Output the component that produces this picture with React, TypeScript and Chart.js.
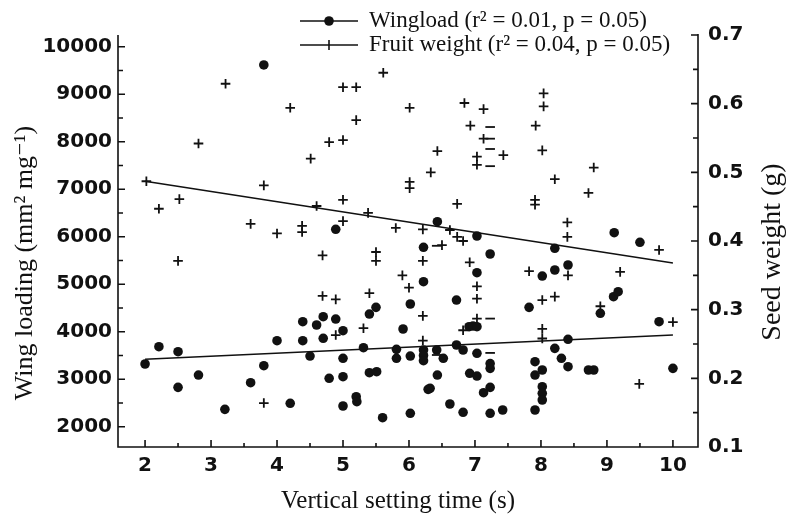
import React, { useEffect, useRef } from 'react';
import { Chart, registerables } from 'chart.js';

Chart.register(...registerables);

const INK = '#111111';

// Wingload (left axis, mm² mg⁻¹) vs vertical setting time (s)
const wingX = [
  3.80, 4.89, 6.22, 6.43, 7.03, 7.23, 8.21, 9.11, 9.50,
  2.00, 2.21, 2.50, 2.50, 2.81, 3.21, 3.60, 3.80, 4.00, 4.20,
  4.39, 4.39, 4.50, 4.60, 4.70, 4.70, 4.79, 4.89, 5.00, 5.00,
  5.00, 5.00, 5.20, 5.21, 5.31, 5.40, 5.50, 5.40, 5.51, 5.60,
  5.81, 5.81, 5.91, 6.02, 6.02, 6.02, 6.22, 6.22, 6.22, 6.22, 6.29,
  7.03, 6.72, 6.91, 6.97, 7.03, 6.42, 6.52, 6.72, 6.82, 7.03,
  7.23, 7.23, 6.43, 6.92, 7.03, 6.32, 7.23, 7.13, 6.62, 6.82, 7.23,
  7.42, 7.82, 8.02, 8.21, 8.41, 7.91, 8.02, 7.91, 8.02, 8.02,
  8.02, 7.91, 8.21, 8.31, 8.41, 8.41, 8.72, 8.80, 9.10, 9.17,
  8.90, 9.79, 10.00,
];
const wingY = [
  9615, 6156, 5777, 6316, 6015, 5636, 5756, 6084, 5882,
  3320, 3684, 3579, 2829, 3088, 2366, 2926, 3284, 3811, 2493,
  4211, 3811, 3488, 4141, 4316, 3861, 3019, 4267, 4021, 3440,
  3053, 2436, 2632, 2526, 3663, 4372, 4513, 3137, 3158, 2190,
  3629, 3440, 4057, 4583, 3488, 2282, 5053, 3615, 3500, 3390, 2787,
  5242, 4667, 4105, 4120, 4105, 3615, 3440, 3720, 3615, 3545,
  3229, 3330, 3088, 3124, 3067, 2808, 2829, 2716, 2478, 2303, 2282,
  2352, 4513, 5172, 5299, 5404, 3368, 3194, 3088, 2842, 2703,
  2562, 2352, 3650, 3440, 3263, 3840, 3194, 3194, 4737, 4842,
  4387, 4211, 3229,
];

// Fruit weight (right axis, g) vs vertical setting time (s)
const fruitX = [
  2.02, 2.21, 2.52, 2.81, 3.22, 3.60, 3.80, 4.00, 4.20, 4.38,
  4.38, 4.51, 4.60, 4.69, 4.79, 5.00, 5.00, 5.20, 5.20, 5.00,
  5.00, 5.38, 5.50, 5.61, 5.80, 6.01, 6.01, 6.01, 6.21, 6.33,
  6.43, 6.62, 6.73, 6.84, 6.93, 7.13, 7.13, 7.03, 7.03, 7.43,
  8.04, 8.04, 7.92, 8.02, 8.21, 7.91, 7.91, 8.80, 8.72, 8.40,
  8.40, 9.79, 6.50, 6.73, 6.82,
  2.50, 3.80, 4.69, 4.89, 4.89, 5.31, 5.40, 5.50, 5.90, 6.00,
  6.21, 6.21, 6.21, 6.92, 7.03, 7.03, 7.03, 6.82, 7.82, 8.41,
  8.02, 8.21, 8.02, 8.02, 9.20, 8.90, 10.00, 9.49,
];
const fruitY = [
  0.487, 0.447, 0.461, 0.542, 0.629, 0.425, 0.481, 0.411, 0.594, 0.422,
  0.413, 0.520, 0.451, 0.379, 0.544, 0.547, 0.624, 0.624, 0.576, 0.460,
  0.429, 0.441, 0.384, 0.645, 0.419, 0.594, 0.486, 0.477, 0.417, 0.500,
  0.531, 0.416, 0.454, 0.601, 0.568, 0.592, 0.549, 0.523, 0.511, 0.525,
  0.615, 0.596, 0.568, 0.532, 0.490, 0.460, 0.453, 0.507, 0.470, 0.427,
  0.406, 0.387, 0.394, 0.406, 0.400,
  0.371, 0.164, 0.320, 0.315, 0.263, 0.273, 0.324, 0.371, 0.350, 0.332,
  0.371, 0.291, 0.255, 0.369, 0.334, 0.316, 0.287, 0.270, 0.356, 0.350,
  0.314, 0.319, 0.272, 0.258, 0.355, 0.305, 0.282, 0.192,
];
// Fruit-weight marks whose vertical stroke is missing in the print
const fruitDashX = [7.23, 7.23, 7.23, 7.23, 6.42, 7.23, 6.42, 7.23];
const fruitDashY = [0.566, 0.549, 0.534, 0.509, 0.393, 0.287, 0.234, 0.237];

// Regression lines
const fitX = [2, 10];
const wingFitY = [3420, 3930];
const fruitFitY = [0.487, 0.368];

// Axes
const xTicks = [2, 3, 4, 5, 6, 7, 8, 9, 10];
const xMinorTicks = [2.5, 3.5, 4.5, 5.5, 6.5, 7.5, 8.5, 9.5];
const leftTicks = [2000, 3000, 4000, 5000, 6000, 7000, 8000, 9000, 10000];
const leftMinorTicks = [2500, 3500, 4500, 5500, 6500, 7500, 8500, 9500];
const rightTicks = [0.1, 0.2, 0.3, 0.4, 0.5, 0.6, 0.7];
const rightMinorTicks = [0.15, 0.25, 0.35, 0.45, 0.55, 0.65];

const xTitle = 'Vertical setting time (s)';
const leftTitle = 'Wing loading (mm² mg⁻¹)';
const rightTitle = 'Seed weight (g)';
const legendLabels = ['Wingload (r² = 0.01, p = 0.05)', 'Fruit weight (r² = 0.04, p = 0.05)'];

const pts = (xs: number[], ys: number[]) => xs.map((x, i) => ({ x, y: ys[i] }));

const SERIF = '"Liberation Serif", "DejaVu Serif", serif';
const TICK_FONT = { family: '"DejaVu Sans", sans-serif', weight: 'bold' as const, size: 20 };

const bgPlugin = {
  id: 'bg',
  beforeDraw(chart: any) {
    const { ctx, width, height } = chart;
    ctx.save();
    ctx.fillStyle = '#ffffff';
    ctx.fillRect(0, 0, width, height);
    ctx.restore();
  },
};

const decorPlugin = {
  id: 'decor',
  afterDraw(chart: any) {
    const { ctx, chartArea: ca, scales } = chart;
    const sx = scales.x, syl = scales.y, syr = scales.y2;
    ctx.save();
    ctx.strokeStyle = INK;
    ctx.fillStyle = INK;
    ctx.lineWidth = 1.6;
    ctx.beginPath();
    ctx.moveTo(ca.left, ca.top);
    ctx.lineTo(ca.left, ca.bottom);
    ctx.lineTo(ca.right, ca.bottom);
    ctx.lineTo(ca.right, ca.top - 1);
    // inward ticks
    const tick = (x0: number, y0: number, x1: number, y1: number) => {
      ctx.moveTo(x0, y0);
      ctx.lineTo(x1, y1);
    };
    leftTicks.forEach((v) => { const p = syl.getPixelForValue(v); tick(ca.left, p, ca.left + 7, p); });
    leftMinorTicks.forEach((v) => { const p = syl.getPixelForValue(v); tick(ca.left, p, ca.left + 5, p); });
    rightTicks.forEach((v) => { const p = syr.getPixelForValue(v); tick(ca.right, p, ca.right - 7, p); });
    rightMinorTicks.forEach((v) => { const p = syr.getPixelForValue(v); tick(ca.right, p, ca.right - 5, p); });
    xTicks.forEach((v) => { const p = sx.getPixelForValue(v); tick(p, ca.bottom, p, ca.bottom - 7); });
    xMinorTicks.forEach((v) => { const p = sx.getPixelForValue(v); tick(p, ca.bottom, p, ca.bottom - 4); });
    ctx.stroke();

    // axis titles
    ctx.textAlign = 'center';
    ctx.textBaseline = 'middle';
    ctx.font = `25px ${SERIF}`;
    ctx.fillText(xTitle, (ca.left + ca.right) / 2 - 10, 501);
    ctx.save();
    ctx.translate(25, 263);
    ctx.rotate(-Math.PI / 2);
    ctx.font = `26px ${SERIF}`;
    ctx.fillText(leftTitle, 0, 0);
    ctx.restore();
    ctx.save();
    ctx.translate(773, 252);
    ctx.rotate(-Math.PI / 2);
    ctx.font = `28px ${SERIF}`;
    ctx.fillText(rightTitle, 0, 0);
    ctx.restore();

    // legend
    ctx.font = `23px ${SERIF}`;
    ctx.textAlign = 'left';
    ctx.textBaseline = 'alphabetic';
    ctx.lineWidth = 1.6;
    const rows = [21, 45];
    rows.forEach((ly, i) => {
      ctx.beginPath();
      ctx.moveTo(300, ly);
      ctx.lineTo(358, ly);
      ctx.stroke();
      if (i === 0) {
        ctx.beginPath();
        ctx.arc(329, ly, 4.8, 0, Math.PI * 2);
        ctx.fill();
      } else {
        ctx.beginPath();
        ctx.moveTo(329, ly - 5);
        ctx.lineTo(329, ly + 5);
        ctx.stroke();
      }
      ctx.fillText(legendLabels[i], 369, ly + 6);
    });
    ctx.restore();
  },
};

export default function App() {
  const ref = useRef<HTMLCanvasElement>(null);

  useEffect(() => {
    const canvas = ref.current;
    if (!canvas) return;
    const chart = new Chart(canvas, {
      type: 'scatter',
      data: {
        datasets: [
          {
            label: 'Wingload',
            data: pts(wingX, wingY),
            yAxisID: 'y',
            pointStyle: 'circle',
            pointRadius: 4.8,
            pointBackgroundColor: INK,
            pointBorderWidth: 0,
            showLine: false,
          },
          {
            label: 'Fruit weight',
            data: pts(fruitX, fruitY),
            yAxisID: 'y2',
            pointStyle: 'cross',
            pointRadius: 4.8,
            pointBorderColor: INK,
            pointBorderWidth: 1.8,
            showLine: false,
          },
          {
            label: 'Fruit weight (faint)',
            data: pts(fruitDashX, fruitDashY),
            yAxisID: 'y2',
            pointStyle: 'line',
            pointRadius: 4.8,
            pointBorderColor: INK,
            pointBorderWidth: 1.8,
            showLine: false,
          },
          {
            label: 'Wingload fit',
            data: pts(fitX, wingFitY),
            yAxisID: 'y',
            showLine: true,
            borderColor: INK,
            borderWidth: 1.5,
            pointRadius: 0,
          },
          {
            label: 'Fruit weight fit',
            data: pts(fitX, fruitFitY),
            yAxisID: 'y2',
            showLine: true,
            borderColor: INK,
            borderWidth: 1.5,
            pointRadius: 0,
          },
        ],
      },
      options: {
        animation: false,
        responsive: false,
        events: [],
        layout: { padding: { top: 35, left: 0, right: 0, bottom: 0 } },
        plugins: { legend: { display: false }, tooltip: { enabled: false } },
        scales: {
          x: {
            type: 'linear',
            position: 'bottom',
            min: 1.59,
            max: 10.38,
            grid: { display: false, drawTicks: false },
            border: { display: false },
            afterBuildTicks: (s: any) => { s.ticks = xTicks.map((v) => ({ value: v })); },
            afterFit: (s: any) => { s.height = 70; },
            ticks: {
              font: TICK_FONT,
              color: INK,
              padding: 7,
              autoSkip: false,
              maxRotation: 0,
              callback: (v: any) => String(v),
            },
          },
          y: {
            type: 'linear',
            position: 'left',
            min: 1573,
            max: 10246,
            grid: { display: false, drawTicks: false },
            border: { display: false },
            afterBuildTicks: (s: any) => { s.ticks = leftTicks.map((v) => ({ value: v })); },
            afterFit: (s: any) => { s.width = 118; },
            ticks: {
              font: TICK_FONT,
              color: INK,
              padding: 6,
              autoSkip: false,
              callback: (v: any) => String(v),
            },
          },
          y2: {
            type: 'linear',
            position: 'right',
            min: 0.1,
            max: 0.7,
            grid: { display: false, drawTicks: false },
            border: { display: false },
            afterBuildTicks: (s: any) => { s.ticks = rightTicks.map((v) => ({ value: v })); },
            afterFit: (s: any) => { s.width = 88; },
            ticks: {
              font: TICK_FONT,
              color: INK,
              padding: 10,
              autoSkip: false,
              callback: (v: any) => Number(v).toFixed(1),
            },
          },
        },
      },
      plugins: [bgPlugin, decorPlugin],
    } as any);
    return () => chart.destroy();
  }, []);

  return (
    <div style={{ position: 'fixed', left: 0, top: 0, width: 786, height: 517, background: '#ffffff' }}>
      <canvas ref={ref} width={786} height={517} style={{ display: 'block', width: 786, height: 517 }} />
    </div>
  );
}
